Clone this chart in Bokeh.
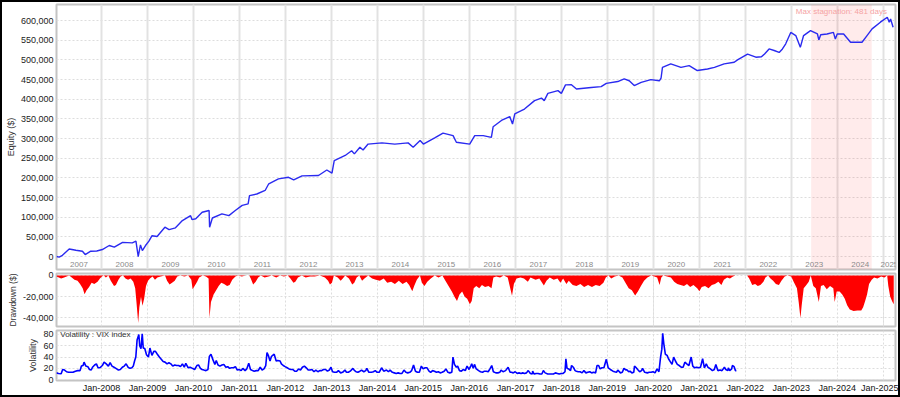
import pandas as pd
from bokeh.plotting import figure
from bokeh.layouts import column
from bokeh.models import (NumeralTickFormatter, FixedTicker, BoxAnnotation, Grid,
                          DatetimeTickFormatter, ColumnDataSource, Range1d, Label)
from bokeh.embed import file_html
from bokeh.resources import INLINE
from bokeh.core.properties import value

# ---------------- data ----------------
equity_dates = [
    "2007-01-09", "2007-01-30", "2007-02-25", "2007-04-20", "2007-06-12", "2007-08-03", "2007-08-25",
    "2007-10-08", "2007-11-25", "2008-01-08", "2008-03-03", "2008-04-12", "2008-06-17", "2008-09-02",
    "2008-10-01", "2008-10-19", "2008-11-06", "2008-11-21", "2008-12-16", "2009-01-12", "2009-02-06",
    "2009-03-18", "2009-05-19", "2009-06-21", "2009-08-11", "2009-10-05", "2009-12-09", "2009-12-20",
    "2010-01-19", "2010-03-11", "2010-05-05", "2010-05-09", "2010-05-31", "2010-08-15", "2010-10-09",
    "2010-11-29", "2011-01-23", "2011-03-11", "2011-03-22", "2011-05-19", "2011-07-24", "2011-08-22",
    "2011-11-07", "2012-01-26", "2012-03-07", "2012-05-12", "2012-09-20", "2012-11-25", "2013-01-05",
    "2013-01-23", "2013-04-20", "2013-06-10", "2013-07-02", "2013-08-15", "2013-09-09", "2013-10-19",
    "2014-02-06", "2014-05-19", "2014-09-02", "2014-10-12", "2014-12-06", "2015-01-01", "2015-04-01",
    "2015-06-06", "2015-08-25", "2015-09-20", "2016-01-04", "2016-02-13", "2016-04-20", "2016-06-24",
    "2016-07-08", "2016-09-12", "2016-11-17", "2016-12-09", "2016-12-27", "2017-02-17", "2017-03-14",
    "2017-06-02", "2017-07-27", "2017-08-18", "2017-09-16", "2017-12-05", "2018-01-01", "2018-02-03",
    "2018-03-22", "2018-05-01", "2018-08-26", "2018-11-13", "2018-12-24", "2019-03-25", "2019-05-15",
    "2019-06-24", "2019-08-03", "2019-09-27", "2019-12-13", "2020-02-18", "2020-03-03", "2020-03-14",
    "2020-05-19", "2020-08-08", "2020-10-12", "2020-12-16", "2021-03-07", "2021-05-01", "2021-07-17",
    "2021-10-05", "2021-10-31", "2022-01-19", "2022-03-26", "2022-05-09", "2022-06-03", "2022-07-09",
    "2022-08-18", "2022-09-27", "2022-10-23", "2022-11-18", "2022-12-28", "2023-02-06", "2023-03-14",
    "2023-04-09", "2023-06-03", "2023-07-28", "2023-08-08", "2023-08-23", "2023-10-12", "2023-12-02",
    "2023-12-17", "2024-01-01", "2024-02-21", "2024-04-16", "2024-07-16", "2024-08-25", "2024-10-04",
    "2024-12-09", "2025-02-02", "2025-02-17", "2025-02-28", "2025-03-20",
]
equity_values = [
    0, -1500, 3000, 19000, 16000, 13500, 5000,
    13500, 14000, 17800, 28000, 23700, 36000, 34800,
    39000, 0, 29700, 15000, 28000, 39000, 53000,
    51000, 74500, 68600, 73000, 91500, 104000, 94000,
    96000, 112600, 117000, 74500, 98000, 108500, 104000,
    117000, 130000, 134000, 155000, 159000, 168000, 185000,
    197500, 201600, 195000, 205000, 206000, 220000, 212000,
    244000, 257000, 269000, 261000, 278000, 271000, 286000,
    289000, 286000, 289000, 278000, 295000, 286000, 302000,
    314000, 307600, 290600, 286000, 307600, 307600, 303000,
    330000, 346000, 356000, 337000, 363000, 371000, 375000,
    396500, 403000, 396500, 415000, 422000, 415000, 436500,
    437000, 426000, 430000, 432000, 440500, 445000, 452000,
    447000, 434700, 443000, 450000, 447000, 454000, 481000,
    490000, 481000, 485500, 473000, 477000, 481000, 490000,
    494000, 500000, 515000, 507000, 508000, 515000, 528000,
    524000, 519000, 528000, 541000, 570000, 562000, 532000,
    562000, 574500, 566000, 551000, 564000, 566000, 570000,
    553000, 566000, 566000, 545000, 545000, 562000, 579000,
    596000, 608500, 596000, 604000, 583000,
]

dd_dates = [
    "2007-01-09", "2007-02-15", "2007-03-10", "2007-04-20", "2007-05-10", "2007-06-01", "2007-06-25",
    "2007-07-15", "2007-08-05", "2007-08-20", "2007-09-05", "2007-09-25", "2007-10-15", "2007-11-05",
    "2007-12-01", "2007-12-20", "2008-01-05", "2008-01-20", "2008-02-05", "2008-02-25", "2008-03-15",
    "2008-04-10", "2008-04-25", "2008-05-15", "2008-06-01", "2008-06-20", "2008-07-10", "2008-07-30",
    "2008-08-20", "2008-09-10", "2008-09-25", "2008-10-05", "2008-10-19", "2008-10-28", "2008-11-10",
    "2008-11-22", "2008-12-05", "2008-12-20", "2009-01-05", "2009-01-20", "2009-02-10", "2009-03-01",
    "2009-03-20", "2009-04-15", "2009-05-20", "2009-06-05", "2009-06-25", "2009-07-15", "2009-08-05",
    "2009-08-25", "2009-09-20", "2009-10-20", "2009-11-20", "2009-12-15", "2009-12-25", "2010-01-10",
    "2010-01-30", "2010-02-15", "2010-03-15", "2010-04-10", "2010-05-01", "2010-05-08", "2010-05-20",
    "2010-06-10", "2010-06-30", "2010-07-20", "2010-08-10", "2010-09-01", "2010-09-25", "2010-10-15",
    "2010-11-05", "2010-11-30", "2010-12-20", "2011-01-20", "2011-02-20", "2011-03-20", "2011-04-01",
    "2011-04-20", "2011-05-10", "2011-05-30", "2011-06-20", "2011-07-20", "2011-08-20", "2011-09-15",
    "2011-10-20", "2011-11-20", "2011-12-20", "2012-01-20", "2012-02-10", "2012-03-05", "2012-03-20",
    "2012-04-10", "2012-05-10", "2012-06-10", "2012-07-15", "2012-08-20", "2012-10-01", "2012-11-10",
    "2012-12-05", "2012-12-20", "2013-01-05", "2013-01-20", "2013-02-20", "2013-03-15", "2013-04-01",
    "2013-04-20", "2013-05-20", "2013-06-15", "2013-07-01", "2013-07-20", "2013-08-10", "2013-09-01",
    "2013-09-20", "2013-10-20", "2013-11-20", "2013-12-20", "2014-01-20", "2014-02-20", "2014-03-20",
    "2014-04-20", "2014-05-20", "2014-06-20", "2014-07-20", "2014-08-20", "2014-09-10", "2014-10-05",
    "2014-10-20", "2014-11-10", "2014-12-05", "2014-12-20", "2015-01-10", "2015-02-01", "2015-03-01",
    "2015-04-01", "2015-05-01", "2015-06-01", "2015-06-25", "2015-07-20", "2015-08-15", "2015-09-05",
    "2015-09-25", "2015-10-15", "2015-11-05", "2015-11-25", "2015-12-15", "2016-01-05", "2016-01-20",
    "2016-02-05", "2016-02-25", "2016-03-20", "2016-04-10", "2016-05-05", "2016-06-01", "2016-06-25",
    "2016-07-10", "2016-08-01", "2016-09-01", "2016-10-01", "2016-11-01", "2016-12-05", "2016-12-20",
    "2017-01-10", "2017-02-10", "2017-03-10", "2017-04-10", "2017-05-01", "2017-06-10", "2017-07-10",
    "2017-08-15", "2017-09-05", "2017-10-01", "2017-11-01", "2017-12-01", "2017-12-25", "2018-01-15",
    "2018-02-10", "2018-03-01", "2018-04-01", "2018-05-01", "2018-06-01", "2018-07-01", "2018-08-01",
    "2018-09-01", "2018-10-01", "2018-11-01", "2018-12-01", "2018-12-20", "2019-01-10", "2019-02-01",
    "2019-03-01", "2019-04-01", "2019-05-01", "2019-05-25", "2019-06-20", "2019-07-15", "2019-08-10",
    "2019-09-01", "2019-09-25", "2019-10-20", "2019-11-15", "2019-12-15", "2020-01-10", "2020-02-01",
    "2020-02-20", "2020-03-05", "2020-03-20", "2020-04-20", "2020-05-20", "2020-06-15", "2020-07-10",
    "2020-08-05", "2020-09-01", "2020-09-25", "2020-10-20", "2020-11-15", "2020-12-15", "2021-01-01",
    "2021-01-20", "2021-02-15", "2021-03-15", "2021-04-10", "2021-05-05", "2021-06-01", "2021-06-25",
    "2021-07-15", "2021-08-10", "2021-09-01", "2021-09-25", "2021-10-15", "2021-11-15", "2022-01-15",
    "2022-02-01", "2022-02-25", "2022-03-20", "2022-04-10", "2022-05-01", "2022-05-25", "2022-06-10",
    "2022-07-01", "2022-07-20", "2022-08-10", "2022-09-01", "2022-09-25", "2022-10-15", "2022-11-10",
    "2022-12-01", "2023-01-01", "2023-01-20", "2023-02-15", "2023-03-01", "2023-03-15", "2023-03-25",
    "2023-04-10", "2023-05-01", "2023-05-20", "2023-06-05", "2023-06-25", "2023-07-15", "2023-08-08",
    "2023-08-25", "2023-09-15", "2023-10-10", "2023-11-05", "2023-12-01", "2023-12-12", "2023-12-28",
    "2024-01-20", "2024-02-10", "2024-03-01", "2024-03-20", "2024-04-10", "2024-05-10", "2024-06-10",
    "2024-07-10", "2024-07-25", "2024-08-10", "2024-08-25", "2024-09-10", "2024-10-01", "2024-10-20",
    "2024-11-15", "2024-12-15", "2025-01-10", "2025-02-01", "2025-02-10", "2025-02-25", "2025-03-15",
    "2025-03-25",
]
dd_values = [
    -1000, -3000, -2000, 0, -2000, -4000, -5000,
    -8000, -12000, -17800, -14000, -11000, -7000, -8000,
    -6000, -3000, -1000, 0, -2000, 0, -5000,
    -10000, -9000, -4000, -1000, 0, -3000, -4000,
    -3000, -6000, -12000, -25000, -44600, -30000, -20000,
    -28600, -22000, -10000, -5000, -3000, -1000, -4000,
    -2000, -1000, 0, -5000, -8600, -7000, -5000,
    -1000, 0, -1000, 0, -4000, -13000, -10000,
    -6000, -2000, 0, -1000, -3000, -40000, -25000,
    -18000, -14000, -10000, -7000, -8000, -10000, -9000,
    -4000, -1000, 0, -1000, 0, 0, -3000,
    -8600, -6000, -2000, 0, -2000, -1000, 0,
    -2000, 0, -1000, 0, -3000, -7000, -6000,
    -2000, 0, -2000, -1000, -1000, 0, -2000,
    -5000, -8600, -7000, 0, -2000, -5000, -3000,
    0, -3000, -8600, -7000, -2000, 0, -5000,
    -3000, 0, -3000, -4000, -5000, -3000, -7000,
    -6000, -8000, -5000, -8000, -6000, -9000, -14800,
    -10000, -4000, 0, -7000, -10000, -6000, -3000,
    0, -2000, 0, -5000, -10000, -15000, -20000,
    -24000, -18000, -15000, -20000, -22000, -27000, -24000,
    -12000, -10000, -12000, -9000, -11000, -10000, -12000,
    -2000, -1000, -2000, 0, -2000, -19000, -8000,
    -3000, -2000, -3000, -6000, -2000, -4000, -3000,
    -9500, -5000, -2000, -4000, -3000, -7000, -3000,
    -8000, -5000, -9000, -10000, -8000, -11000, -9000,
    -11000, -9000, -10000, -7000, -2000, 0, -3000,
    -1000, 0, -2000, -7000, -12000, -14000, -18800,
    -15000, -10000, -5000, -2000, 0, -1000, -2000,
    -9000, -2000, 0, -1000, -2000, -6000, -8000,
    -9000, -10000, -8000, -11000, -9000, -12000, -14800,
    -11000, -10000, -12000, -9000, -8000, -6000, -9000,
    -4000, -2000, -3000, -1000, 0, 0, 0,
    -3000, -9000, -8000, -10000, -9000, -6000, -2000,
    0, -3000, -5000, -8000, -9000, -5000, -1000,
    0, -1000, -6000, -12000, -25000, -40000, -28000,
    -12000, -9000, -6000, 0, -10000, -12000, -25000,
    -10000, -9000, -13000, -10000, -12000, -25000, -15000,
    -15000, -18000, -22000, -28000, -32000, -33500, -33000,
    -33000, -30000, -24000, -18000, -8000, -4000, -2000,
    -3000, -1000, -2000, 0, -10000, -20000, -25000,
    -27000,
]

vix_dates = [
    "2007-01-09", "2007-01-25", "2007-02-15", "2007-02-27", "2007-03-14", "2007-03-30", "2007-04-15",
    "2007-05-01", "2007-05-20", "2007-06-08", "2007-06-26", "2007-07-15", "2007-07-26", "2007-08-08",
    "2007-08-16", "2007-08-30", "2007-09-15", "2007-09-28", "2007-10-12", "2007-10-22", "2007-11-08",
    "2007-11-22", "2007-12-05", "2007-12-20", "2008-01-08", "2008-01-22", "2008-02-08", "2008-02-25",
    "2008-03-10", "2008-03-25", "2008-04-10", "2008-04-25", "2008-05-15", "2008-05-30", "2008-06-15",
    "2008-06-30", "2008-07-15", "2008-07-30", "2008-08-15", "2008-08-30", "2008-09-10", "2008-09-20",
    "2008-09-30", "2008-10-10", "2008-10-24", "2008-10-31", "2008-11-10", "2008-11-20", "2008-11-28",
    "2008-12-10", "2008-12-24", "2009-01-08", "2009-01-20", "2009-02-05", "2009-02-20", "2009-03-05",
    "2009-03-20", "2009-04-05", "2009-04-20", "2009-05-05", "2009-05-20", "2009-06-05", "2009-06-20",
    "2009-07-05", "2009-07-20", "2009-08-05", "2009-08-20", "2009-09-05", "2009-09-20", "2009-10-05",
    "2009-10-20", "2009-11-01", "2009-11-20", "2009-12-05", "2009-12-24", "2010-01-10", "2010-01-28",
    "2010-02-10", "2010-02-25", "2010-03-10", "2010-03-25", "2010-04-10", "2010-04-26", "2010-05-07",
    "2010-05-20", "2010-06-05", "2010-06-20", "2010-07-01", "2010-07-15", "2010-07-30", "2010-08-15",
    "2010-08-30", "2010-09-15", "2010-09-30", "2010-10-15", "2010-10-30", "2010-11-15", "2010-11-30",
    "2010-12-15", "2010-12-30", "2011-01-15", "2011-01-28", "2011-02-15", "2011-02-28", "2011-03-16",
    "2011-03-30", "2011-04-15", "2011-04-28", "2011-05-15", "2011-05-30", "2011-06-15", "2011-06-30",
    "2011-07-15", "2011-07-29", "2011-08-08", "2011-08-20", "2011-09-01", "2011-09-12", "2011-09-22",
    "2011-10-04", "2011-10-20", "2011-11-01", "2011-11-20", "2011-11-30", "2011-12-15", "2011-12-30",
    "2012-01-15", "2012-01-30", "2012-02-15", "2012-02-28", "2012-03-15", "2012-03-30", "2012-04-15",
    "2012-04-30", "2012-05-15", "2012-05-31", "2012-06-15", "2012-06-30", "2012-07-15", "2012-07-30",
    "2012-08-15", "2012-08-30", "2012-09-15", "2012-09-30", "2012-10-15", "2012-10-30", "2012-11-15",
    "2012-11-30", "2012-12-15", "2012-12-28", "2013-01-10", "2013-01-25", "2013-02-10", "2013-02-25",
    "2013-03-15", "2013-03-30", "2013-04-18", "2013-04-30", "2013-05-15", "2013-05-30", "2013-06-20",
    "2013-06-30", "2013-07-15", "2013-07-30", "2013-08-15", "2013-08-28", "2013-09-15", "2013-09-30",
    "2013-10-09", "2013-10-25", "2013-11-15", "2013-11-30", "2013-12-15", "2013-12-30", "2014-01-15",
    "2014-02-03", "2014-02-20", "2014-03-14", "2014-03-30", "2014-04-11", "2014-04-30", "2014-05-15",
    "2014-05-30", "2014-06-15", "2014-06-30", "2014-07-15", "2014-07-31", "2014-08-15", "2014-08-30",
    "2014-09-15", "2014-09-30", "2014-10-15", "2014-10-30", "2014-11-15", "2014-11-30", "2014-12-16",
    "2014-12-30", "2015-01-15", "2015-01-30", "2015-02-15", "2015-02-28", "2015-03-15", "2015-03-30",
    "2015-04-15", "2015-04-30", "2015-05-15", "2015-05-30", "2015-06-15", "2015-06-29", "2015-07-15",
    "2015-07-30", "2015-08-15", "2015-08-24", "2015-09-05", "2015-09-20", "2015-09-30", "2015-10-15",
    "2015-10-30", "2015-11-15", "2015-11-30", "2015-12-14", "2015-12-30", "2016-01-12", "2016-01-20",
    "2016-02-01", "2016-02-11", "2016-02-25", "2016-03-15", "2016-03-30", "2016-04-15", "2016-04-30",
    "2016-05-15", "2016-05-30", "2016-06-15", "2016-06-27", "2016-07-10", "2016-07-30", "2016-08-15",
    "2016-08-30", "2016-09-09", "2016-09-25", "2016-10-15", "2016-11-04", "2016-11-20", "2016-11-30",
    "2016-12-15", "2016-12-30", "2017-01-15", "2017-01-30", "2017-02-15", "2017-02-28", "2017-03-15",
    "2017-03-30", "2017-04-13", "2017-04-30", "2017-05-15", "2017-05-18", "2017-05-30", "2017-06-15",
    "2017-06-30", "2017-07-15", "2017-07-30", "2017-08-11", "2017-08-25", "2017-09-15", "2017-09-30",
    "2017-10-15", "2017-10-30", "2017-11-15", "2017-11-30", "2017-12-15", "2017-12-30", "2018-01-15",
    "2018-01-30", "2018-02-06", "2018-02-15", "2018-02-28", "2018-03-15", "2018-03-23", "2018-04-06",
    "2018-04-20", "2018-04-30", "2018-05-15", "2018-05-30", "2018-06-15", "2018-06-29", "2018-07-15",
    "2018-07-30", "2018-08-15", "2018-08-30", "2018-09-15", "2018-09-30", "2018-10-11", "2018-10-24",
    "2018-11-05", "2018-11-20", "2018-12-05", "2018-12-24", "2019-01-08", "2019-01-25", "2019-02-15",
    "2019-02-28", "2019-03-15", "2019-03-25", "2019-04-15", "2019-04-30", "2019-05-13", "2019-05-30",
    "2019-06-03", "2019-06-20", "2019-06-30", "2019-07-15", "2019-07-30", "2019-08-05", "2019-08-15",
    "2019-08-30", "2019-09-15", "2019-09-30", "2019-10-08", "2019-10-25", "2019-11-15", "2019-11-30",
    "2019-12-15", "2019-12-30", "2020-01-15", "2020-01-31", "2020-02-15", "2020-02-28", "2020-03-09",
    "2020-03-16", "2020-03-25", "2020-04-06", "2020-04-20", "2020-05-01", "2020-05-15", "2020-05-29",
    "2020-06-11", "2020-06-25", "2020-07-10", "2020-07-25", "2020-08-10", "2020-08-25", "2020-09-08",
    "2020-09-23", "2020-10-10", "2020-10-28", "2020-11-10", "2020-11-25", "2020-12-10", "2020-12-28",
    "2021-01-10", "2021-01-27", "2021-02-10", "2021-02-25", "2021-03-10", "2021-03-30", "2021-04-15",
    "2021-04-30", "2021-05-12", "2021-05-28", "2021-06-15", "2021-06-30", "2021-07-19", "2021-07-30",
    "2021-08-15", "2021-08-19", "2021-08-30", "2021-09-15", "2021-09-20", "2021-10-04", "2021-10-15",
    "2021-10-22",
]
vix_values = [
    12, 11, 10.5, 18, 17, 14, 13,
    13, 13, 15, 16, 16, 24, 25,
    31, 24, 23, 18, 17, 22, 26,
    28, 21, 21, 25, 31, 28, 24,
    30, 24, 22, 20, 17, 18, 22,
    24, 28, 22, 20, 21, 24, 33,
    40, 70, 80, 60, 55, 81, 56,
    55, 44, 40, 56, 43, 50, 50,
    45, 40, 36, 32, 31, 28, 30,
    28, 24, 26, 25, 25, 23, 28,
    22, 29, 21, 22, 20, 18, 25,
    26, 20, 18, 17, 16, 18, 41,
    45, 35, 27, 34, 26, 24, 26,
    27, 22, 23, 20, 21, 21, 23,
    17, 18, 16, 20, 16, 19, 29,
    18, 16, 15, 16, 16, 22, 17,
    19, 25, 48, 42, 33, 41, 43,
    45, 33, 34, 33, 28, 25, 23,
    21, 19, 18, 18, 15, 15, 19,
    17, 22, 24, 21, 17, 17, 18,
    14, 17, 14, 16, 16, 18, 18,
    15, 17, 22, 14, 13, 13, 16,
    12, 13, 17, 13, 13, 15, 20,
    17, 14, 13, 15, 17, 14, 16,
    20, 13, 13, 14, 16, 13, 13,
    21, 15, 17, 14, 17, 13, 12,
    11, 12, 11, 11, 17, 13, 12,
    13, 16, 26, 15, 13, 13, 24,
    19, 21, 21, 15, 13, 16, 15,
    13, 14, 12, 13, 15, 19, 13,
    12, 13, 40, 27, 22, 24, 16,
    15, 18, 16, 24, 18, 24, 28,
    20, 27, 19, 16, 14, 13, 15,
    15, 14, 20, 25, 14, 12, 12,
    13, 17, 14, 16, 22, 13, 13,
    12, 14, 11, 12, 11, 12, 11,
    12, 16, 11, 10, 15, 10, 11,
    11, 10, 10, 16, 12, 10, 10,
    10, 10, 12, 11, 10, 11, 11,
    14, 37, 20, 19, 16, 25, 22,
    16, 15, 14, 14, 12, 16, 12,
    13, 14, 12, 13, 12, 25, 25,
    19, 21, 21, 36, 21, 18, 15,
    14, 13, 17, 12, 13, 20, 17,
    18, 14, 15, 12, 13, 24, 22,
    18, 14, 16, 20, 13, 12, 13,
    13, 14, 12, 19, 14, 40, 54,
    82, 63, 45, 43, 37, 32, 27,
    40, 33, 27, 25, 22, 22, 31,
    28, 25, 40, 24, 21, 22, 21,
    22, 37, 21, 28, 22, 19, 16,
    18, 27, 16, 17, 16, 22, 18,
    16, 21, 16, 19, 25, 23, 16,
    16,
]

year_labels = [2007, 2008, 2009, 2010, 2011, 2012, 2013, 2014, 2015, 2016,
               2017, 2018, 2019, 2020, 2021, 2022, 2023, 2024, 2025]
tick_years = [2008, 2009, 2010, 2011, 2012, 2013, 2014, 2015, 2016, 2017,
              2018, 2019, 2020, 2021, 2022, 2023, 2024, 2025]
stag_start = "2023-06-08"
stag_end = "2024-10-01"
stag_days = 481
x_start = pd.Timestamp("2007-01-09")
x_end = pd.Timestamp("2025-04-08")

# ---------------- build ----------------
FONT = "Liberation Sans"
xr = Range1d(start=x_start, end=x_end)
tick_ms = [pd.Timestamp(f"{y}-01-01").value // 10**6 for y in tick_years]

def style_y(p, label, fmt=None, label_size="9px"):
    ax = p.yaxis[0]
    ax.axis_label = label
    ax.axis_label_text_font = FONT
    ax.axis_label_text_font_size = label_size
    ax.axis_label_text_font_style = "normal"
    ax.axis_label_text_color = "#333333"
    ax.axis_label_standoff = 2
    ax.major_label_text_font = FONT
    ax.major_label_text_font_size = "9px"
    ax.major_label_text_color = "#222222"
    ax.major_tick_out = 0
    ax.major_tick_in = 0
    ax.minor_tick_out = 0
    ax.minor_tick_in = 0
    ax.axis_line_color = None
    ax.major_label_standoff = 3
    if fmt:
        ax.formatter = NumeralTickFormatter(format=fmt)
    p.outline_line_color = "#c4c4c4"
    p.outline_line_width = 2
    p.ygrid.grid_line_color = "#dddddd"
    p.ygrid.grid_line_dash = "2 2"
    p.toolbar.logo = None

LEFT = 50
RIGHT = 3

# Equity panel
p1 = figure(width=896, height=269, x_range=xr, y_range=Range1d(-33000, 641000),
            x_axis_location=None, toolbar_location=None, output_backend="svg",
            min_border_left=LEFT, min_border_right=RIGHT, min_border_top=2, min_border_bottom=2)
p1.yaxis.ticker = FixedTicker(ticks=[0, 50000, 100000, 150000, 200000, 250000, 300000,
                                     350000, 400000, 450000, 500000, 550000, 600000])
style_y(p1, "Equity ($)", "0,0")
p1.add_layout(Grid(dimension=0, ticker=FixedTicker(ticks=tick_ms),
                   grid_line_color="#e2e2e2", grid_line_width=2))
p1.add_layout(BoxAnnotation(left=pd.Timestamp(stag_start), right=pd.Timestamp(stag_end),
                            fill_color="#ff0000", fill_alpha=0.08, line_color=None,
                            level="underlay"))
eq_src = ColumnDataSource(dict(x=pd.to_datetime(equity_dates), y=equity_values))
p1.line("x", "y", source=eq_src, line_color="#2a2af0", line_width=1.4)

# year labels in the band
centers = []
for y in year_labels:
    a = max(pd.Timestamp(f"{y}-01-01"), x_start)
    b = min(pd.Timestamp(f"{y + 1}-01-01"), x_end)
    centers.append(a + (b - a) / 2)
yl_src = ColumnDataSource(dict(x=centers, y=[-20000] * len(year_labels),
                               t=[str(y) for y in year_labels]))
p1.text("x", "y", text="t", source=yl_src, text_font=value(FONT), text_font_size="8px",
        text_color="#8a8a8a", text_align="center", text_baseline="middle")
s0, s1 = pd.Timestamp(stag_start), pd.Timestamp(stag_end)
p1.add_layout(Label(x=s0 + (s1 - s0) / 2, y=624000, text=f"Max stagnation: {stag_days} days",
                    text_font=FONT, text_font_size="8px", text_color="#f5a3a3",
                    text_align="center", text_baseline="middle"))

# Drawdown panel
p2 = figure(width=896, height=57, x_range=xr, y_range=Range1d(-48000, 1800),
            x_axis_location=None, toolbar_location=None, output_backend="svg",
            min_border_left=LEFT, min_border_right=RIGHT, min_border_top=2, min_border_bottom=2)
p2.yaxis.ticker = FixedTicker(ticks=[-40000, -20000, 0])
style_y(p2, "Drawdown ($)", "0,0", label_size="8.5px")
p2.add_layout(Grid(dimension=0, ticker=FixedTicker(ticks=tick_ms),
                   grid_line_color="#dddddd", grid_line_dash="2 2"))
dd_src = ColumnDataSource(dict(x=pd.to_datetime(dd_dates), y=dd_values))
p2.varea(x="x", y1=0, y2="y", source=dd_src, fill_color="#ff0000")

# Volatility panel
p3 = figure(width=896, height=67, x_range=xr, y_range=Range1d(-1.5, 87),
            x_axis_type="datetime", toolbar_location=None, output_backend="svg",
            min_border_left=LEFT, min_border_right=RIGHT, min_border_top=2, min_border_bottom=0)
p3.yaxis.ticker = FixedTicker(ticks=[0, 20, 40, 60, 80])
style_y(p3, "Volatility")
xa = p3.xaxis[0]
xa.ticker = FixedTicker(ticks=tick_ms)
xa.formatter = DatetimeTickFormatter(years="%b-%Y", months="%b-%Y", days="%b-%Y",
                                     hours="%b-%Y", minutes="%b-%Y", seconds="%b-%Y")
xa.major_label_text_font = FONT
xa.major_label_text_font_size = "9px"
xa.major_label_text_color = "#111111"
xa.major_tick_out = 0
xa.major_tick_in = 0
xa.minor_tick_out = 0
xa.minor_tick_in = 0
xa.axis_line_color = None
xa.major_label_standoff = 2
p3.xgrid.grid_line_color = "#dddddd"
p3.xgrid.grid_line_dash = "2 2"
vix_src = ColumnDataSource(dict(x=pd.to_datetime(vix_dates), y=vix_values))
p3.line("x", "y", source=vix_src, line_color="#0000ff", line_width=1.6)
p3.add_layout(Label(x=x_start + pd.Timedelta(days=30), y=80, text="Volatility : VIX index",
                    text_font=FONT, text_font_size="8px", text_color="#333333",
                    text_align="left", text_baseline="middle"))

layout = column(p1, p2, p3, spacing=0,
                styles={"border": "2px solid black", "box-sizing": "content-box"})
open("out.html", "w").write(file_html(layout, INLINE))
